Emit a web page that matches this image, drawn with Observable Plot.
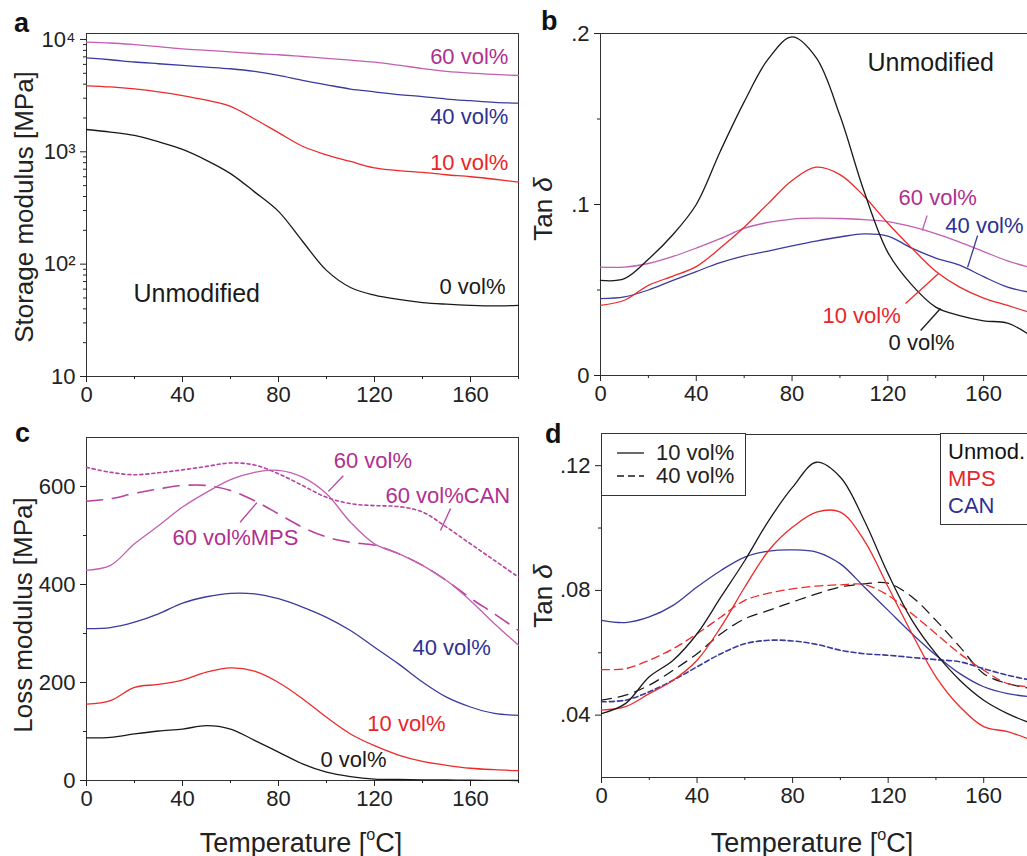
<!DOCTYPE html>
<html><head><meta charset="utf-8">
<script src="https://cdn.jsdelivr.net/npm/d3@7"></script>
<script src="https://cdn.jsdelivr.net/npm/@observablehq/plot@0.6"></script>
<style>
html,body{margin:0;padding:0;background:#fff;overflow:hidden}
#root{position:relative;width:1027px;height:856px;overflow:hidden;font-family:'Liberation Sans',Arial,sans-serif;color:#222;background:#fff}
.abs{position:absolute;white-space:nowrap;line-height:1}
.letter{font-weight:bold;font-size:27px;color:#111}
.ytitle{transform:translate(-50%,-50%) rotate(-90deg);font-size:26px}
.xtitle{transform:translate(-50%,-50%);font-size:27px}
.legbox{position:absolute;border:1px solid #333;background:#fff;box-sizing:border-box}
sup{font-size:60%;vertical-align:0.7em;line-height:0}
</style></head><body><div id="root"></div>
<script>
// ---------- DATA ----------
const temps = [0,10,20,30,40,50,60,70,80,90,100,110,120,130,140,150,160,170,180];
const xMajor = [0,40,80,120,160];
const xMinor = [20,60,100,140,180];

// Panel a: storage modulus [MPa], unmodified
const a_60 = [9460,9300,9000,8650,8260,8000,7750,7500,7310,7050,6800,6550,6280,5900,5500,5200,5010,4880,4780];
const a_40 = [6870,6600,6300,6080,5870,5680,5485,5200,4800,4330,3950,3620,3420,3230,3100,2950,2850,2760,2710];
const a_10 = [3870,3780,3630,3420,3170,2880,2540,1960,1480,1120,940,820,720,680,655,625,600,570,537];
const a_0  = [1580,1500,1400,1230,1050,840,640,440,295,160,88,62,53,48.5,45.5,44,43,42.5,43];
const aTicks = [10,100,1000,10000];
const aTickLabels = ["10","10²","10³","10⁴"];
const aMinor = [20,30,40,50,60,70,80,90,200,300,400,500,600,700,800,900,2000,3000,4000,5000,6000,7000,8000,9000];

// Panel b: tan delta, unmodified
const b_0  = [.0556,.0566,.068,.082,.100,.131,.160,.185,.198,.186,.152,.108,.072,.053,.040,.035,.032,.0306,.023];
const b_10 = [.041,.044,.0527,.058,.0637,.0745,.0867,.1005,.114,.1218,.1175,.105,.089,.0745,.061,.0517,.0453,.041,.0365];
const b_60 = [.0634,.0634,.0655,.0695,.0745,.080,.086,.0895,.0915,.092,.0918,.0912,.090,.087,.083,.078,.0725,.067,.063];
const b_40 = [.045,.046,.050,.0555,.0608,.066,.070,.0728,.0758,.0786,.081,.0828,.0815,.0745,.0687,.0645,.0578,.0517,.0485];
const bTicks = [0,.1,.2];
const bMinor = [.05,.15];

// Panel c: loss modulus [MPa]
const c_0   = [87,88,95,101,105,112,105,82,58,34,17,8,3,2,1.4,1,0.5,0.3,0];
const c_10  = [156,163,190,196,205,221,230,223,200,167,129,95,71,52,39,31,25,22,20];
const c_40  = [310,312,323,340,362,375,382,381,371,354,333,306,272,238,201,170,150,137,133];
const c_60  = [429,439,483,520,558,588,614,629,633,619,585,527,483,463,439,408,367,320,276];
const c_60CAN = [639,629,624,628,634,641,648,644,626,602,578,565,561,559,548,517,483,449,415];
const c_60MPS = [570,575,586,595,602,602,592,571,544,517,497,486,480,463,439,408,372,340,306];
const cTicks = [0,200,400,600];
const cMinor = [100,300,500];

// Panel d: tan delta, 10 vol% (solid) and 40 vol% (dashed)
const d_unmod10 = [.0405,.0437,.0523,.0576,.0661,.0779,.0896,.1024,.1131,.1211,.1163,.1024,.0853,.0704,.0597,.0512,.0448,.0405,.0373];
const d_mps10   = [.0416,.0427,.0469,.0512,.0576,.0683,.0811,.0928,.1003,.1051,.1051,.096,.0811,.0661,.0523,.0427,.0363,.0347,.032];
const d_can10   = [.0704,.0697,.0715,.0752,.0811,.0864,.0907,.0926,.093,.0923,.0885,.0811,.0736,.0661,.0592,.0533,.0491,.0469,.0459];
const d_mps40   = [.0546,.0549,.0576,.0613,.0661,.0715,.0768,.0791,.0805,.0814,.0818,.0819,.0784,.0725,.0661,.0597,.0544,.0501,.0491];
const d_unmod40 = [.0448,.0464,.0496,.0544,.0597,.0661,.0709,.0736,.0763,.0789,.0811,.0821,.0823,.0779,.0704,.0619,.0533,.0501,.0485];
const d_can40   = [.0443,.0448,.0475,.0512,.0555,.0597,.0629,.064,.0638,.0627,.0608,.0597,.0592,.0585,.0578,.0571,.0549,.0528,.0512];
const dTicks = [.04,.08,.12];
const dMinor = [.06,.10];

// ---------- STYLE ----------
const BLACK = "#1a1a1a", RED = "#ec2a2a", BLUE = "#3a3b9c", MAG = "#b8429f", MAGL = "#c25fb2";
const TXT_MAG = "#b0308f", TXT_BLUE = "#2e3192", TXT_RED = "#e8262a";
const FONT = "'Liberation Sans', Arial, sans-serif";
const baseStyle = {fontFamily: FONT, fontSize: "22px", color: "#222", background: "transparent", overflow: "visible"};

const rows = vals => temps.map((T, i) => ({T, v: vals[i]}));
const line = (vals, stroke, extra = {}) => Plot.line(rows(vals), {x: "T", y: "v", stroke, strokeWidth: 1.3, curve: "catmull-rom", ...extra});
const label = (text, x, y, fill, anchor = "start", size = 22) => Plot.text([text], {x: () => x, y: () => y, text: d => d, fill, textAnchor: anchor, fontSize: size, fontFamily: FONT});
const leader = (x1, y1, x2, y2, stroke) => Plot.link([0], {x1: () => x1, y1: () => y1, x2: () => x2, y2: () => y2, stroke, strokeWidth: 1.3});
const fmtTan = d => d === 0 ? "0" : String(+d.toFixed(3)).replace(/^0/, "");

function axes(yTicks, yMinor, yFmt) {
  return [
    Plot.frame({stroke: "#333", strokeWidth: 1}),
    Plot.axisX({ticks: xMajor, tickSize: 6, tickPadding: 4, fontSize: 22, label: null, stroke: "#222"}),
    Plot.axisX({ticks: xMinor, tickSize: 3, tickFormat: () => "", label: null, stroke: "#222"}),
    Plot.axisY({ticks: yTicks, tickSize: 6, tickPadding: 5, fontSize: 22, label: null, tickFormat: yFmt, stroke: "#222"}),
    Plot.axisY({ticks: yMinor, tickSize: 3, tickFormat: () => "", label: null, stroke: "#222"})
  ];
}

const root = document.getElementById("root");
function place(el, left, top) {
  el.style.position = "absolute"; el.style.left = left + "px"; el.style.top = top + "px";
  root.appendChild(el);
}
function html(cls, content, left, top, style = "") {
  const d = document.createElement("div");
  d.className = "abs " + cls; d.innerHTML = content;
  d.style.cssText += `left:${left}px;top:${top}px;` + style;
  root.appendChild(d);
}

// ---------- PANEL a ----------
place(Plot.plot({
  width: 520, height: 420, marginLeft: 86, marginRight: 2, marginTop: 33, marginBottom: 44,
  x: {domain: [0, 180]}, y: {type: "log", domain: [10, 11300]},
  style: baseStyle,
  marks: [
    ...axes(aTicks, aMinor, d => aTickLabels[aTicks.indexOf(d)]),
    line(a_60, MAGL), line(a_40, BLUE), line(a_10, RED), line(a_0, BLACK),
    label("60 vol%", 175.8, 6920, TXT_MAG, "end"),
    label("40 vol%", 175.8, 2060, TXT_BLUE, "end"),
    label("10 vol%", 175.8, 803, TXT_RED, "end"),
    label("0 vol%", 174.6, 63, BLACK, "end"),
    label("Unmodified", 19.6, 53.7, BLACK, "start", 25)
  ]
}), 0, 0);

// ---------- PANEL b ----------
place(Plot.plot({
  width: 521, height: 420, marginLeft: 90, marginRight: 0, marginTop: 33, marginBottom: 45,
  x: {domain: [0, 180]}, y: {domain: [0, 0.2]},
  style: baseStyle,
  marks: [
    ...axes(bTicks, bMinor, fmtTan),
    line(b_60, MAGL), line(b_40, BLUE), line(b_10, RED), line(b_0, BLACK),
    leader(136.4, .0936, 134.4, .0848, MAGL),
    leader(157.5, .0819, 153.3, .0632, BLUE),
    leader(127.4, .0421, 141.2, .0596, RED),
    leader(133.7, .0263, 142, .0392, BLACK),
    label("Unmodified", 111.5, .1825, BLACK, "start", 25),
    label("60 vol%", 124.5, .104, TXT_MAG),
    label("40 vol%", 144, .0877, TXT_BLUE),
    label("10 vol%", 92.7, .0351, TXT_RED),
    label("0 vol%", 120.3, .0193, BLACK)
  ]
}), 510, 0);

// ---------- PANEL c ----------
place(Plot.plot({
  width: 520, height: 436, marginLeft: 86, marginRight: 2, marginTop: 17, marginBottom: 76,
  x: {domain: [0, 180]}, y: {domain: [0, 700]},
  style: baseStyle,
  marks: [
    ...axes(cTicks, cMinor, d => String(d)),
    line(c_60CAN, MAG, {strokeDasharray: "3,3", strokeWidth: 1.6}),
    line(c_60MPS, MAG, {strokeDasharray: "16,10", strokeWidth: 1.6}),
    line(c_60, MAGL), line(c_40, BLUE), line(c_10, RED), line(c_0, BLACK),
    leader(107, 622, 100.8, 590, MAG),
    leader(151.7, 555, 147.5, 510, MAG),
    leader(64, 527, 71, 567, MAG),
    label("60 vol%", 103, 653, TXT_MAG),
    label("60 vol%CAN", 124.6, 580, TXT_MAG),
    label("60 vol%MPS", 35.8, 494, TXT_MAG),
    label("40 vol%", 135.8, 271, TXT_BLUE),
    label("10 vol%", 117, 116, TXT_RED),
    label("0 vol%", 97.5, 41, BLACK)
  ]
}), 0, 420);

// ---------- PANEL d ----------
place(Plot.plot({
  width: 521, height: 436, marginLeft: 91, marginRight: 0, marginTop: 14, marginBottom: 79,
  x: {domain: [0, 180]}, y: {domain: [0.02, 0.13]},
  style: baseStyle,
  marks: [
    ...axes(dTicks, dMinor, fmtTan),
    line(d_unmod40, BLACK, {strokeDasharray: "10,7"}),
    line(d_mps40, RED, {strokeDasharray: "8,5"}),
    line(d_can40, BLUE, {strokeDasharray: "5,3", strokeWidth: 1.6}),
    line(d_can10, BLUE), line(d_mps10, RED), line(d_unmod10, BLACK)
  ]
}), 510, 420);

// ---------- TEXT: letters, titles, legends ----------
html("letter", "a", 14, 10);
html("letter", "b", 541, 8);
html("letter", "c", 15, 420);
html("letter", "d", 545, 421);
html("ytitle", "Storage modulus [MPa]", 24, 207);
html("ytitle", "Tan <i>δ</i>", 543, 209);
html("ytitle", "Loss modulus [MPa]", 23, 615);
html("ytitle", "Tan <i>δ</i>", 543, 596);
html("xtitle", "Temperature [<sup>o</sup>C]", 301, 843);
html("xtitle", "Temperature [<sup>o</sup>C]", 812, 843);

const lb1 = document.createElement("div");
lb1.className = "legbox"; lb1.style.cssText += "left:601px;top:433px;width:145px;height:63px;";
lb1.innerHTML = `<svg width="145" height="63" style="position:absolute;left:0;top:0">
<line x1="15" y1="19" x2="42" y2="19" stroke="${BLACK}" stroke-width="1.3"/>
<line x1="15" y1="42" x2="42" y2="42" stroke="${BLACK}" stroke-width="1.3" stroke-dasharray="7,4"/></svg>
<div class="abs" style="left:54px;top:8px;font-size:22px">10 vol%</div>
<div class="abs" style="left:54px;top:31px;font-size:22px">40 vol%</div>`;
root.appendChild(lb1);

const lb2 = document.createElement("div");
lb2.className = "legbox"; lb2.style.cssText += "left:940px;top:433px;width:120px;height:92px;";
lb2.innerHTML = `<div class="abs" style="left:7px;top:7px;font-size:22px;color:#111">Unmod.</div>
<div class="abs" style="left:7px;top:34px;font-size:22px;color:${TXT_RED}">MPS</div>
<div class="abs" style="left:7px;top:61px;font-size:22px;color:${TXT_BLUE}">CAN</div>`;
root.appendChild(lb2);
</script></body></html>
